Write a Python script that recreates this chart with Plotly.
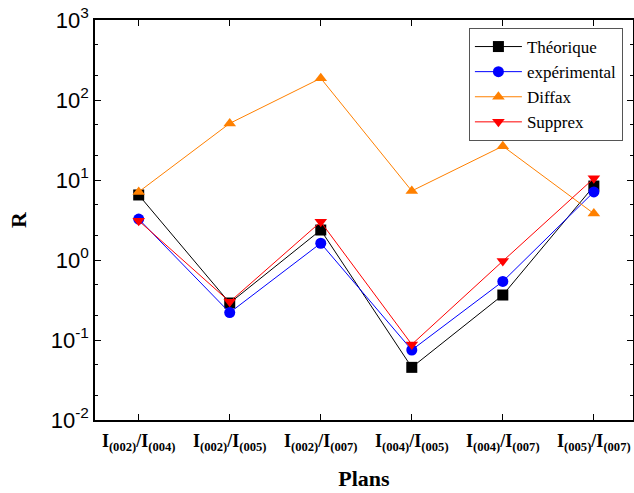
import plotly.graph_objects as go

categories = ["I<sub>(002)</sub>/I<sub>(004)</sub>", "I<sub>(002)</sub>/I<sub>(005)</sub>",
              "I<sub>(002)</sub>/I<sub>(007)</sub>", "I<sub>(004)</sub>/I<sub>(005)</sub>",
              "I<sub>(004)</sub>/I<sub>(007)</sub>", "I<sub>(005)</sub>/I<sub>(007)</sub>"]
theorique = [6.5, 0.29, 2.37, 0.0455, 0.365, 8.4]
experimental = [3.25, 0.22, 1.62, 0.075, 0.54, 7.1]
diffax = [7.1, 51, 187, 7.3, 26.5, 3.8]
supprex = [3.1, 0.30, 3.0, 0.088, 0.97, 10.5]
ytick_vals = [0.01, 0.1, 1, 10, 100, 1000]
ytick_text = ["10<sup>-2</sup>", "10<sup>-1</sup>", "10<sup>0</sup>", "10<sup>1</sup>", "10<sup>2</sup>", "10<sup>3</sup>"]

x = list(range(len(categories)))
series = [
    ("Théorique", theorique, "#000000", "square"),
    ("expérimental", experimental, "#0000ff", "circle"),
    ("Diffax", diffax, "#ff8000", "triangle-up"),
    ("Supprex", supprex, "#ff0000", "triangle-down"),
]

fig = go.Figure()
for name, vals, color, sym in series:
    fig.add_trace(go.Scatter(
        x=x, y=vals, name=name, mode="lines+markers",
        line=dict(color=color, width=1),
        marker=dict(symbol=sym, size=11, color=color),
    ))

fig.update_layout(
    width=634, height=493,
    margin=dict(l=95, r=1, t=20, b=73),
    plot_bgcolor="white", paper_bgcolor="white",
    showlegend=True,
    legend=dict(
        x=0.695, y=0.98, xanchor="left", yanchor="top",
        bordercolor="#555555", borderwidth=1, bgcolor="white",
        font=dict(family="Liberation Serif", size=17, color="black"),
        tracegroupgap=0, itemwidth=47,
    ),
    xaxis=dict(
        range=[-0.48, 5.43],
        tickvals=x,
        ticktext=["<b>" + c + "</b>" for c in categories],
        tickfont=dict(family="Liberation Serif", size=18, color="black"),
        ticks="inside", ticklen=6, tickcolor="black", ticklabelstandoff=4,
        showline=True, linecolor="black", linewidth=1.5, mirror="ticks",
        showgrid=False, zeroline=False, automargin=False,
        title=dict(text="<b>Plans</b>", font=dict(family="Liberation Serif", size=22, color="black"), standoff=17),
    ),
    yaxis=dict(
        type="log", range=[-2, 3],
        tickvals=ytick_vals, ticktext=ytick_text,
        tickfont=dict(family="Liberation Sans", size=22, color="black"),
        ticks="inside", ticklen=6, tickcolor="black",
        minor=dict(ticks="inside", ticklen=3, tickcolor="black", showgrid=False),
        showline=True, linecolor="black", linewidth=1.5, mirror="ticks",
        showgrid=False, zeroline=False, automargin=False,
        title=dict(text="<b>R</b>", font=dict(family="Liberation Serif", size=22, color="black"), standoff=18),
    ),
)

fig.write_html("out.html", config={"displayModeBar": False},
               post_script="document.body.style.margin='0';")
